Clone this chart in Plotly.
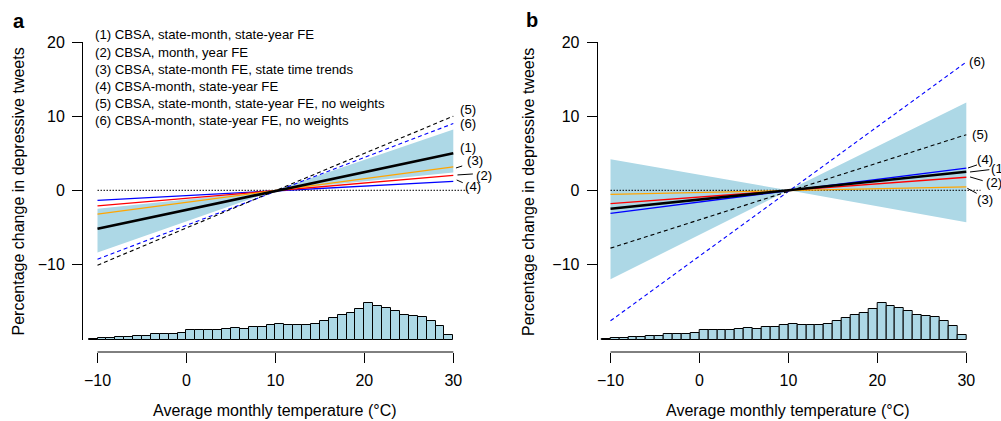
import plotly.graph_objects as go

# ---------------- data ----------------
temp_ends = [-10, 30]
models = ["(1)", "(2)", "(3)", "(4)", "(5)", "(6)"]
legend_lines = [
    "(1) CBSA, state-month, state-year FE",
    "(2) CBSA, month, year FE",
    "(3) CBSA, state-month FE, state time trends",
    "(4) CBSA-month, state-year FE",
    "(5) CBSA, state-month, state-year FE, no weights",
    "(6) CBSA-month, state-year FE, no weights",
]
# effect (percentage change) at -10 and 30 degC
panel_a_effects = {
    "(1)": [-5.2, 5.0], "(2)": [-2.1, 2.0], "(3)": [-3.2, 3.15],
    "(4)": [-1.35, 1.2], "(5)": [-10.1, 10.0], "(6)": [-9.3, 9.0],
}
panel_b_effects = {
    "(1)": [-2.5, 2.5], "(2)": [-1.8, 1.76], "(3)": [-0.54, 0.45],
    "(4)": [-3.1, 3.0], "(5)": [-7.8, 7.5], "(6)": [-17.6, 17.3],
}
band_x = [-10, 10, 30]
panel_a_band_lo = [-8.4, 0, 2.4]
panel_a_band_hi = [-2.5, 0, 8.2]
panel_b_band_lo = [-12.0, 0, -4.3]
panel_b_band_hi = [4.2, 0, 11.85]

hist_bin_left = list(range(-11, 30))
hist_counts = [3, 6, 6, 8, 9, 11, 13, 18, 18, 19, 22, 30, 29, 29, 30, 32, 36, 34,
               40, 38, 45, 47, 45, 46, 44, 48, 56, 67, 74, 80, 92, 110, 103, 96,
               86, 76, 71, 68, 57, 41, 16]

x_ticks = [-10, 0, 10, 20, 30]
y_ticks = [-10, 0, 10, 20]

# ---------------- styles ----------------
FONT = "Liberation Sans"
BAND = "#ADD8E6"
style = {
    "(1)": dict(color="black", width=2.6, dash="solid"),
    "(2)": dict(color="#FF0000", width=1.3, dash="solid"),
    "(3)": dict(color="#FFA500", width=1.3, dash="solid"),
    "(4)": dict(color="#0000FF", width=1.3, dash="solid"),
    "(5)": dict(color="black", width=1.1, dash="4px,3px"),
    "(6)": dict(color="#0000FF", width=1.1, dash="4px,3px"),
}
draw_order = ["(6)", "(5)", "(4)", "(2)", "(3)", "(1)"]

W, H = 1001, 421
MT, MB = 42.3, 69.3
PH = H - MT - MB
Y_RANGE = [-20.2, 20]
Y_BOTTOM_PX = 339.8
Y_TOP_PX = MT
HIST_UNIT = 0.04505  # y-units per count
XSCALE = 8.895       # px per degree


def ppx(px):
    return px / W


def ppy(py):
    return (H - MB - py) / PH


fig = go.Figure()

# axes geometry
xa_range = [-11.63, 32]
xb_range = [-11.44, 32]
xa_left, xb_left = 83, 597.7
xa_dom = [ppx(xa_left), ppx(xa_left + (xa_range[1] - xa_range[0]) * XSCALE)]
xb_dom = [ppx(xb_left), ppx(xb_left + (xb_range[1] - xb_range[0]) * XSCALE)]
y_dom = [(H - MB - Y_BOTTOM_PX) / PH, 1]
hist_range = [0, (Y_RANGE[1] - Y_RANGE[0]) / HIST_UNIT]
yscale = (Y_BOTTOM_PX - Y_TOP_PX) / (Y_RANGE[1] - Y_RANGE[0])


def data_to_paper(x, y, left, xr):
    px = left + (x - xr[0]) * XSCALE
    py = Y_BOTTOM_PX - (y - Y_RANGE[0]) * yscale
    return ppx(px), ppy(py)


panels = [
    dict(xa="x", ya="y", hy="y3", eff=panel_a_effects, lo=panel_a_band_lo, hi=panel_a_band_hi),
    dict(xa="x2", ya="y2", hy="y4", eff=panel_b_effects, lo=panel_b_band_lo, hi=panel_b_band_hi),
]

for p in panels:
    # confidence band
    fig.add_trace(go.Scatter(
        x=band_x + band_x[::-1], y=p["hi"] + p["lo"][::-1], fill="toself",
        fillcolor=BAND, line=dict(width=0), mode="lines", hoverinfo="skip",
        xaxis=p["xa"], yaxis=p["ya"], showlegend=False))
    # zero line
    fig.add_trace(go.Scatter(
        x=[temp_ends[0], 31.6], y=[0, 0], mode="lines",
        line=dict(color="black", width=1, dash="1.5px,1.5px"),
        xaxis=p["xa"], yaxis=p["ya"], showlegend=False))
    for m in draw_order:
        s = style[m]
        fig.add_trace(go.Scatter(
            x=temp_ends, y=p["eff"][m], mode="lines",
            line=dict(color=s["color"], width=s["width"], dash=s["dash"]),
            xaxis=p["xa"], yaxis=p["ya"], showlegend=False, name=m))
    # histogram of temperatures
    fig.add_trace(go.Bar(
        x=[b + 0.5 for b in hist_bin_left], y=hist_counts, width=1,
        marker=dict(color=BAND, line=dict(color="black", width=1)),
        xaxis=p["xa"], yaxis=p["hy"], showlegend=False, hoverinfo="skip"))

tickfont = dict(family=FONT, size=16, color="black")
xcommon = dict(tickvals=x_ticks, ticktext=["\u221210", "0", "10", "20", "30"],
               ticks="outside", ticklen=10, tickwidth=1, tickcolor="black",
               showline=False, showgrid=False, zeroline=False, tickfont=tickfont,
               anchor="free", position=0, ticklabelstandoff=4)
ycommon = dict(range=Y_RANGE, domain=y_dom, tickvals=y_ticks,
               ticktext=["\u221210", "0", "10", "20"],
               ticks="outside", ticklen=10, tickwidth=1, tickcolor="black",
               showline=True, linecolor="black", linewidth=1,
               showgrid=False, zeroline=False, tickfont=tickfont, ticklabelstandoff=4)

fig.update_layout(
    width=W, height=H,
    margin=dict(l=0, r=0, t=MT, b=MB),
    paper_bgcolor="white", plot_bgcolor="white",
    font=dict(family=FONT, color="black"),
    showlegend=False, bargap=0,
    xaxis=dict(domain=xa_dom, range=xa_range, **xcommon),
    xaxis2=dict(domain=xb_dom, range=xb_range, **xcommon),
    yaxis=dict(anchor="x", **ycommon),
    yaxis2=dict(anchor="x2", **ycommon),
    yaxis3=dict(overlaying="y", anchor="x", range=hist_range, visible=False, domain=y_dom),
    yaxis4=dict(overlaying="y2", anchor="x2", range=hist_range, visible=False, domain=y_dom),
)

# x-axis lines spanning the tick range only
for xr in ["x", "x2"]:
    fig.add_shape(type="line", xref=xr, yref="paper", x0=min(x_ticks), x1=max(x_ticks),
                  y0=0, y1=0, line=dict(color="black", width=1))

ann = []
# legend text panel a
for i, (txt, py) in enumerate(zip(legend_lines, [35, 52.3, 69.7, 86.7, 103.7, 120.7])):
    ann.append(dict(x=ppx(93), y=ppy(py), xref="paper", yref="paper", text=txt,
                    showarrow=False, xanchor="left", yanchor="middle",
                    font=dict(family=FONT, size=13.2)))

lab_font = dict(family=FONT, size=13.2)
labels_a = {"(5)": (31.6, 10.85), "(6)": (31.6, 8.96), "(1)": (31.6, 5.72),
            "(3)": (32.4, 3.96), "(2)": (33.5, 1.93), "(4)": (32.2, 0.49)}
labels_b = {"(6)": (31.2, 17.35), "(5)": (31.5, 7.57), "(4)": (32.05, 4.19),
            "(2)": (33.06, 1.03), "(3)": (32.1, -1.22)}
for m, (x, y) in labels_a.items():
    px_, py_ = data_to_paper(x, y, xa_left, xa_range)
    ann.append(dict(x=px_, y=py_, xref="paper", yref="paper", text=m, showarrow=False,
                    xanchor="center", yanchor="middle", font=lab_font))
for m, (x, y) in labels_b.items():
    px_, py_ = data_to_paper(x, y, xb_left, xb_range)
    ann.append(dict(x=px_, y=py_, xref="paper", yref="paper", text=m, showarrow=False,
                    xanchor="center", yanchor="middle", font=lab_font))
px_, py_ = data_to_paper(32.55, 2.88, xb_left, xb_range)
ann.append(dict(x=px_, y=py_, xref="paper", yref="paper", text="(1)", showarrow=False,
                xanchor="left", yanchor="middle", font=lab_font))

leaders_a = [((30.3, 3.01), (31.0, 3.28)), ((30.47, 2.07), (32.2, 2.2)),
             ((30.38, 1.39), (31.06, 1.03))]
leaders_b = [((30.19, 3.01), (31.2, 3.42)), ((30.42, 2.47), (32.59, 2.78)),
             ((30.42, 1.80), (31.84, 1.30)), ((30.11, 0.27), (31.17, -0.41))]
for leaders, left, xr in [(leaders_a, xa_left, xa_range), (leaders_b, xb_left, xb_range)]:
    for (x0, y0), (x1, y1) in leaders:
        a0 = data_to_paper(x0, y0, left, xr)
        a1 = data_to_paper(x1, y1, left, xr)
        fig.add_shape(type="line", xref="paper", yref="paper", x0=a0[0], y0=a0[1],
                      x1=a1[0], y1=a1[1], line=dict(color="black", width=1))

# panel letters
ann.append(dict(x=ppx(18.7), y=ppy(21), xref="paper", yref="paper", text="<b>a</b>",
                showarrow=False, xanchor="center", yanchor="middle",
                font=dict(family=FONT, size=20)))
ann.append(dict(x=ppx(532), y=ppy(20), xref="paper", yref="paper", text="<b>b</b>",
                showarrow=False, xanchor="center", yanchor="middle",
                font=dict(family=FONT, size=20)))
# axis titles
for cx in [275.4, 788.4]:
    ann.append(dict(x=ppx(cx), y=ppy(410), xref="paper", yref="paper",
                    text="Average monthly temperature (\u00b0C)", showarrow=False,
                    xanchor="center", yanchor="middle", font=dict(family=FONT, size=16)))
for cx, cy in [(18.5, 192), (529, 192)]:
    ann.append(dict(x=ppx(cx), y=ppy(cy), xref="paper", yref="paper",
                    text="Percentage change in depressive tweets", showarrow=False,
                    textangle=-90, xanchor="center", yanchor="middle",
                    font=dict(family=FONT, size=16)))

fig.update_layout(annotations=ann)
fig.write_html("out.html", config={"displayModeBar": False})

# remove the browser's default page margin so the figure sits at the window origin
with open("out.html", "r", encoding="utf-8") as f:
    html = f.read()
html = html.replace("<head>", "<head><style>html,body{margin:0;padding:0;overflow:hidden;}</style>", 1)
with open("out.html", "w", encoding="utf-8") as f:
    f.write(html)
